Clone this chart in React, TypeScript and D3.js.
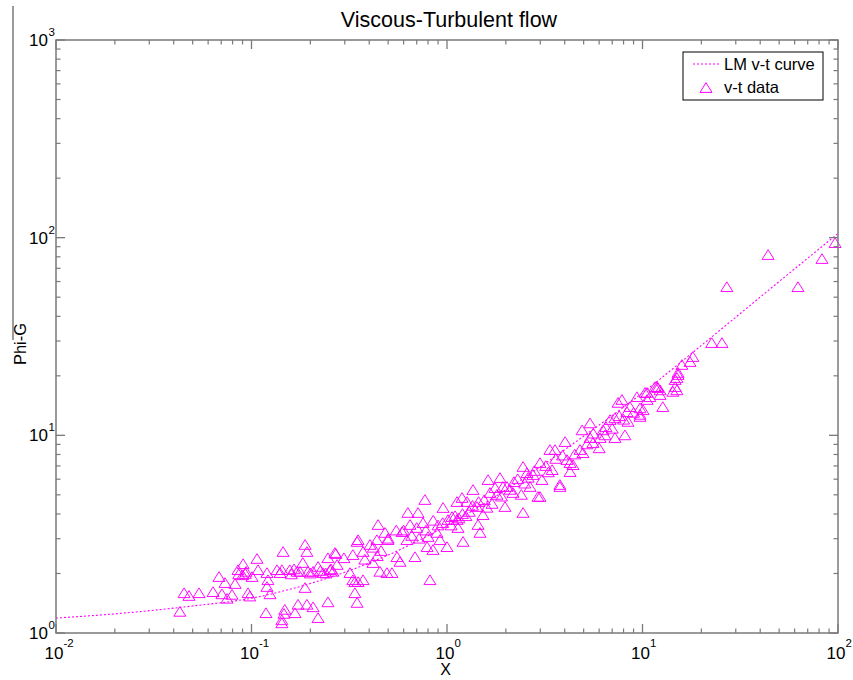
import React from 'react';
import * as d3 from 'd3';

const W = 853;
const H = 680;

const titleText = 'Viscous-Turbulent flow';
const xLabel = 'X';
const yLabel = 'Phi-G';
const legendLabels = ['LM v-t curve', 'v-t data'];

const xDomain: [number, number] = [0.01, 100];
const yDomain: [number, number] = [1, 1000];
const xTickExps = [-2, -1, 0, 1, 2];
const yTickExps = [0, 1, 2, 3];

// LM v-t fitted curve
const curveX = [0.01, 0.02, 0.05, 0.1, 0.2, 0.5, 1, 2, 5, 10, 20, 50, 100];
const curveY = [1.19, 1.25, 1.37, 1.5, 1.78, 2.48, 3.5, 5.3, 9.9, 16.4, 28.5, 60, 105];

// v-t data points [X, Phi-G]
const vtData: [number, number][] = [
  [0.043, 1.28], [0.0452, 1.59], [0.0479, 1.54], [0.0539, 1.59], [0.0636, 1.61], [0.0682, 1.92],
  [0.0706, 1.57], [0.0732, 1.79], [0.075, 1.49], [0.0795, 1.56], [0.0824, 1.77], [0.0853, 2.08],
  [0.0906, 2.23], [0.0938, 2.04], [0.096, 1.59], [0.098, 1.53], [0.1007, 1.92], [0.1067, 2.37],
  [0.108, 2.08], [0.12, 2.01], [0.1214, 1.85], [0.12, 1.71], [0.1244, 1.57], [0.1186, 1.26],
  [0.135, 2.08], [0.145, 2.57], [0.143, 2.08], [0.157, 2.08], [0.171, 2.04], [0.177, 2.04],
  [0.183, 2.26], [0.188, 2.79], [0.192, 2.57], [0.188, 1.69], [0.1945, 2.04], [0.2065, 2.04],
  [0.219, 2.16], [0.232, 2.01], [0.246, 2.39], [0.261, 2.04], [0.267, 2.54], [0.246, 1.43],
  [0.173, 1.39], [0.148, 1.31], [0.143, 1.16], [0.143, 1.12], [0.1466, 1.25], [0.167, 1.26],
  [0.192, 1.39], [0.2065, 1.35], [0.219, 1.19], [0.27, 2.51], [0.297, 2.39], [0.347, 2.89],
  [0.33, 2.48], [0.338, 1.81], [0.338, 1.59], [0.347, 1.42], [0.14, 2.01], [0.16, 1.98],
  [0.165, 2.1], [0.2, 2.0], [0.225, 2.06], [0.24, 2.0], [0.255, 2.1], [0.086, 1.98],
  [0.09, 1.96], [0.093, 1.99],
  [0.351, 2.95], [0.372, 2.57], [0.404, 2.79], [0.438, 2.95], [0.444, 3.52], [0.482, 3.21],
  [0.499, 2.95], [0.418, 2.26], [0.454, 2.04], [0.493, 2.01], [0.523, 2.01], [0.555, 2.42],
  [0.575, 2.29], [0.589, 3.24], [0.631, 4.05], [0.647, 3.52], [0.624, 2.95], [0.686, 2.42],
  [0.711, 4.05], [0.771, 4.71], [0.754, 3.6], [0.8, 3.06], [0.791, 2.72], [0.848, 2.63],
  [0.889, 3.21], [0.921, 2.95], [1.0, 2.72], [0.955, 4.29], [1.012, 3.73], [1.061, 3.86],
  [1.125, 3.73], [1.138, 3.4], [1.208, 2.89], [1.125, 4.6], [1.194, 4.82], [1.265, 4.6],
  [1.358, 5.29], [1.423, 4.34], [1.442, 3.52], [1.475, 3.21], [1.528, 3.95], [1.622, 5.94],
  [1.66, 5.11], [1.762, 5.41], [1.866, 6.08], [1.933, 5.48], [1.98, 4.34], [0.818, 1.85],
  [0.33, 1.85], [0.351, 1.81], [0.372, 1.85], [0.252, 2.08], [0.274, 2.21], [0.319, 2.01],
  [0.6, 3.3], [0.66, 3.1], [0.7, 3.4], [0.72, 3.0], [0.5, 3.0], [0.55, 3.3], [0.9, 3.5],
  [0.95, 3.6], [1.05, 3.5], [1.1, 3.9], [1.15, 3.8], [1.2, 4.0], [1.3, 4.1], [1.35, 4.4],
  [1.25, 3.9], [0.85, 3.7], [0.78, 3.3], [0.42, 2.7], [0.46, 2.6], [0.38, 2.35], [0.44, 2.45],
  [1.55, 4.7], [1.7, 4.5], [1.8, 5.0], [1.9, 4.9], [1.6, 4.3], [1.45, 4.6],
  [2.027, 5.48], [2.177, 5.11], [2.449, 6.92], [2.566, 6.44], [2.754, 6.3], [2.99, 7.24],
  [3.06, 5.94], [2.66, 5.48], [2.99, 4.88], [3.36, 8.43], [3.57, 8.43], [3.45, 6.67],
  [3.78, 5.61], [4.02, 9.25], [4.11, 7.5], [4.26, 7.24], [4.26, 6.52], [4.41, 7.07],
  [4.79, 8.43], [4.91, 10.6], [4.96, 8.13], [5.39, 11.5], [5.39, 9.69], [5.58, 9.14],
  [6.07, 9.69], [6.28, 10.6], [6.43, 10.0], [7.23, 9.69], [8.13, 10.0], [6.82, 11.95],
  [7.23, 12.2], [7.5, 14.6], [7.85, 15.1], [8.33, 13.1], [8.43, 11.7], [8.63, 13.9],
  [9.37, 15.6], [9.71, 13.7], [9.71, 12.7], [10.3, 16.4], [10.55, 15.1], [10.9, 15.6],
  [11.86, 17.55], [12.3, 16.9], [12.7, 13.9], [14.7, 19.05], [15.0, 16.9], [15.2, 20.2],
  [3.78, 5.48], [2.92, 4.88], [2.449, 4.05],
  [2.2, 5.8], [2.3, 6.0], [2.5, 5.7], [2.6, 6.1], [2.8, 6.6], [3.2, 7.0], [3.3, 6.5],
  [3.6, 7.6], [3.9, 7.9], [2.1, 5.3], [2.4, 5.0], [4.5, 8.0], [5.2, 9.0], [5.6, 10.2],
  [6.5, 11.0], [7.0, 10.8], [7.6, 12.5], [8.0, 12.0], [9.0, 13.0], [6.0, 8.6],
  [9.71, 12.4], [10.07, 13.4], [10.55, 16.4], [11.6, 17.55], [12.0, 17.35], [12.3, 16.0],
  [14.3, 16.6], [14.7, 17.55], [15.0, 19.5], [15.2, 20.7], [15.9, 22.7], [17.5, 23.5],
  [18.1, 24.9], [22.6, 29.3], [25.5, 29.3], [27.0, 56.2], [43.9, 81.7], [62.4, 56.2],
  [82.8, 78.0], [96.6, 93.9],
];

const MAGENTA = '#ff00ff';
const AXIS = '#7a7a7a';
const FONT = '"Liberation Sans", Arial, Helvetica, sans-serif';

function tri(cx: number, cy: number): string {
  return `M${cx},${cy - 5.3}L${cx + 6},${cy + 4.4}L${cx - 6},${cy + 4.4}Z`;
}

export default function App() {
  const x = d3.scaleLog().domain(xDomain).range([56, 838]);
  const y = d3.scaleLog().domain(yDomain).range([633, 40]);
  const [x0, x1] = x.range();
  const [y0, y1] = y.range();

  const minorX: number[] = [];
  xTickExps.slice(0, -1).forEach((e) => {
    for (let m = 2; m <= 9; m++) minorX.push(m * Math.pow(10, e));
  });
  const minorY: number[] = [];
  yTickExps.slice(0, -1).forEach((e) => {
    for (let m = 2; m <= 9; m++) minorY.push(m * Math.pow(10, e));
  });

  const line = d3
    .line<number>()
    .x((_, i) => x(curveX[i]))
    .y((d) => y(d))
    .curve(d3.curveMonotoneX);
  const curvePath = line(curveY) || '';

  const MAJ = 9;
  const MIN = 4.5;

  return (
    <div style={{ position: 'absolute', left: 0, top: 0 }}>
      <svg width={W} height={H} style={{ display: 'block', background: '#fff' }} fontFamily={FONT}>
        <rect x={0} y={0} width={W} height={H} fill="#fff" />
        {/* title */}
        <text x={(x0 + x1) / 2 + 2} y={27} textAnchor="middle" fontSize={21.5} fill="#000">
          {titleText}
        </text>

        {/* stray vertical line left of y label */}
        <line x1={13} x2={13} y1={6} y2={340} stroke={AXIS} strokeWidth={1.5} />
        <text
          transform={`translate(26,${344}) rotate(-90)`}
          textAnchor="middle"
          fontSize={16.5}
          fill="#000"
        >
          {yLabel}
        </text>
        <text x={(x0 + x1) / 2 - 1.5} y={675} textAnchor="middle" fontSize={16} fill="#000">
          {xLabel}
        </text>

        {/* curve */}
        <clipPath id="plotclip">
          <rect x={x0} y={y1} width={x1 - x0} height={y0 - y1} />
        </clipPath>
        <path
          d={curvePath}
          fill="none"
          stroke={MAGENTA}
          strokeWidth={1.1}
          strokeDasharray="2 2"
          clipPath="url(#plotclip)"
        />

        {/* data */}
        <g>
          {vtData.map((d, i) => (
            <path key={i} d={tri(x(d[0]), y(d[1]))} fill="none" stroke={MAGENTA} strokeWidth={0.95} />
          ))}
        </g>

        {/* axes box */}
        <rect x={x0} y={y1} width={x1 - x0} height={y0 - y1} fill="none" stroke={AXIS} strokeWidth={1.5} />

        {/* x ticks */}
        {xTickExps.map((e) => {
          const px = x(Math.pow(10, e));
          return (
            <g key={'xt' + e}>
              <line x1={px} x2={px} y1={y0} y2={y0 - MAJ} stroke={AXIS} strokeWidth={1.3} />
              <line x1={px} x2={px} y1={y1} y2={y1 + MAJ} stroke={AXIS} strokeWidth={1.3} />
              <text x={px - 2} y={658.5} textAnchor="middle" fontSize={17} fill="#000">
                10
              </text>
              <text x={px + 7.5} y={647} textAnchor="start" fontSize={11.5} fill="#000">
                {String(e)}
              </text>
            </g>
          );
        })}
        {minorX.map((v, i) => {
          const px = x(v);
          return (
            <g key={'xm' + i}>
              <line x1={px} x2={px} y1={y0} y2={y0 - MIN} stroke={AXIS} strokeWidth={1.2} />
              <line x1={px} x2={px} y1={y1} y2={y1 + MIN} stroke={AXIS} strokeWidth={1.2} />
            </g>
          );
        })}

        {/* y ticks */}
        {yTickExps.map((e) => {
          const py = y(Math.pow(10, e));
          return (
            <g key={'yt' + e}>
              <line x1={x0} x2={x0 + MAJ} y1={py} y2={py} stroke={AXIS} strokeWidth={1.3} />
              <line x1={x1} x2={x1 - MAJ} y1={py} y2={py} stroke={AXIS} strokeWidth={1.3} />
              <text x={48} y={py + 6} textAnchor="end" fontSize={17} fill="#000">
                10
              </text>
              <text x={48.5} y={py - 4} textAnchor="start" fontSize={11.5} fill="#000">
                {String(e)}
              </text>
            </g>
          );
        })}
        {minorY.map((v, i) => {
          const py = y(v);
          return (
            <g key={'ym' + i}>
              <line x1={x0} x2={x0 + MIN} y1={py} y2={py} stroke={AXIS} strokeWidth={1.2} />
              <line x1={x1} x2={x1 - MIN} y1={py} y2={py} stroke={AXIS} strokeWidth={1.2} />
            </g>
          );
        })}

        {/* legend */}
        <g>
          <rect x={683} y={52} width={140} height={48} fill="#fff" stroke="#000" strokeWidth={1} />
          <line x1={693} x2={720} y1={64} y2={64} stroke={MAGENTA} strokeWidth={1.1} strokeDasharray="2 2" />
          <text x={724} y={70} fontSize={16.5} fill="#000">
            {legendLabels[0]}
          </text>
          <path d={tri(706, 88)} fill="none" stroke={MAGENTA} strokeWidth={1} />
          <text x={724} y={93} fontSize={16.5} fill="#000">
            {legendLabels[1]}
          </text>
        </g>
      </svg>
    </div>
  );
}
